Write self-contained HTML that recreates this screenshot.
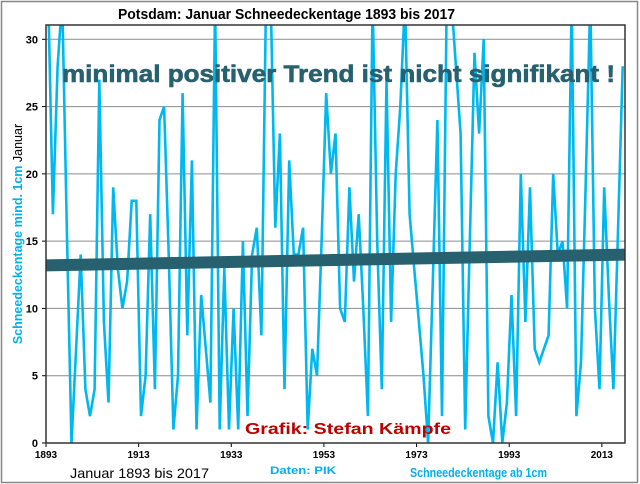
<!DOCTYPE html>
<html><head><meta charset="utf-8"><style>
html,body{margin:0;padding:0;background:#fff;}
svg{display:block;font-family:"Liberation Sans",Arial,sans-serif;}
</style></head><body>
<svg id="chart" width="640" height="484" viewBox="0 0 640 484">
<rect x="1.5" y="1.5" width="636" height="481" fill="#fff" stroke="#888" stroke-width="1.5"/>
<text x="118" y="19" font-size="14.5" font-weight="bold" textLength="337" lengthAdjust="spacingAndGlyphs" fill="#000">Potsdam:  Januar Schneedeckentage 1893 bis 2017</text>
<g id="grid"></g>
<g id="yticks"></g>
<g id="xticks"></g>
<text transform="translate(22,234) rotate(-90)" font-size="12.5" font-weight="bold" text-anchor="middle"><tspan fill="#00b0f0">Schneedeckentage mind. 1cm </tspan><tspan fill="#000" font-weight="normal">Januar</tspan></text>
<g id="plot"></g>
<text x="62" y="82" font-size="24" font-weight="bold" textLength="553" lengthAdjust="spacingAndGlyphs" fill="#27606e" stroke="#27606e" stroke-width="0.6">minimal positiver Trend ist nicht signifikant !</text>
<text x="245" y="434" font-size="16" font-weight="bold" textLength="206" lengthAdjust="spacingAndGlyphs" fill="#c00000">Grafik: Stefan Kämpfe</text>
<text x="70" y="478" font-size="14" textLength="139" lengthAdjust="spacingAndGlyphs" fill="#000">Januar 1893 bis 2017</text>
<text x="270" y="474" font-size="11" font-weight="bold" textLength="66" lengthAdjust="spacingAndGlyphs" fill="#00b0f0">Daten: PIK</text>
<text x="410" y="477" font-size="13" font-weight="bold" textLength="137" lengthAdjust="spacingAndGlyphs" fill="#00b0f0">Schneedeckentage  ab 1cm</text>
</svg>
<script>
const firstYear = 1893;
const snowDays = [33,17,28,33,16,0,7,14,4,2,4,27,9,3,19,13,10,12,18,18,2,5,17,4,24,25,14,1,5,26,8,21,1,11,7,3,33,1,13,1,10,1,15,2,14,16,8,33,33,16,23,4,21,14,14,16,1,7,5,15,26,20,23,10,9,19,12,17,10,2,33,15,4,27,9,20,25,33,17,13,9,5,0,12,24,2,33,33,28,23,1,15,29,23,30,2,0,6,0,3,11,2,20,9,19,7,6,7,8,20,14,15,10,33,2,6,19,33,10,4,19,11,4,16,28];
const yTicks = [0,5,10,15,20,25,30];
const xTickYears = [1893,1913,1933,1953,1973,1993,2013];
const trendStart = 13.2, trendEnd = 14.0;

const NS = "http://www.w3.org/2000/svg";
const L = 46, R = 625, T = 25, B = 443;
const n = snowDays.length;
const step = (R - L) / n;
function xPos(i){ return L + (i + 0.5) * step; }
function xTick(year){ return L + (year - firstYear) * step; }
function yPos(v){ return B - (Math.min(v, 40) / 30) * (B - 39.3); }
function mk(tag, attrs, parent){ const e = document.createElementNS(NS, tag); for (const k in attrs) e.setAttribute(k, attrs[k]); parent.appendChild(e); return e; }

const grid = document.getElementById('grid');
const yt = document.getElementById('yticks');
yTicks.forEach(v => {
  const y = yPos(v);
  if (v > 0) {
    const g = mk('line', {x1:L, x2:R, y1:y, y2:y, stroke:'#8c8c8c', 'stroke-width':1}, grid);
    
    
  }
  mk('line', {x1:L-4, x2:L, y1:y, y2:y, stroke:'#000', 'stroke-width':1}, yt);
  const t = mk('text', {x:L-8, y:y+4, 'font-size':11, 'font-weight':'bold', 'text-anchor':'end'}, yt);
  t.textContent = v;
  
  
});

const xt = document.getElementById('xticks');
xTickYears.forEach(yr => {
  const x = xTick(yr);
  mk('line', {x1:x, x2:x, y1:B, y2:B+4, stroke:'#000', 'stroke-width':1}, xt);
  const t = mk('text', {x:x, y:B+15, 'font-size':10, 'font-weight':'bold', 'text-anchor':'middle'}, xt);
  t.textContent = yr;
  
  
});

const plot = document.getElementById('plot');
const defs = mk('defs', {}, plot);
const cp = mk('clipPath', {id:'clip'}, defs);
mk('rect', {x:L, y:T, width:R-L, height:B-T+2}, cp);
const pts = snowDays.map((v,i) => xPos(i).toFixed(1) + ',' + yPos(v).toFixed(1)).join(' ');
const line = mk('polyline', {points:pts, fill:'none', stroke:'#00b8f0', 'stroke-width':2.6, 'stroke-linejoin':'miter', 'clip-path':'url(#clip)'}, plot);


const tr = mk('line', {x1:L, x2:R, y1:yPos(trendStart), y2:yPos(trendEnd), stroke:'#27606e', 'stroke-width':12}, plot);


const ax = mk('path', {d:`M${L},${T} L${L},${B} L${R},${B} L${R},${T} Z`, fill:'none', stroke:'#333', 'stroke-width':1.5}, plot);


</script>
</body></html>
